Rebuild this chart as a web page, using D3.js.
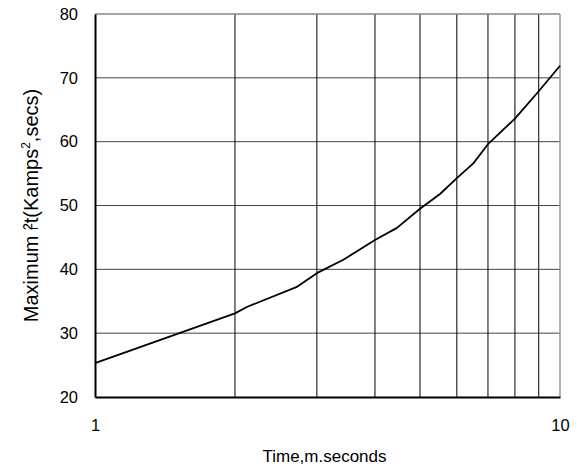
<!DOCTYPE html>
<html>
<head>
<meta charset="utf-8">
<script src="https://cdn.jsdelivr.net/npm/d3@7"></script>
<style>
  html, body { margin: 0; padding: 0; background: #fff; }
  svg { display: block; font-family: "Liberation Sans", Arial, sans-serif; }
</style>
</head>
<body>
<svg id="chart" width="580" height="470"></svg>
<script>
// Data
const timeMs = [1, 2, 2.12, 2.71, 3, 3.42, 4, 4.46, 5, 5.52, 6, 6.51, 7, 8, 9, 10];
const maxI2t = [25.3, 33.1, 34.1, 37.2, 39.4, 41.5, 44.6, 46.5, 49.5, 51.8, 54.3, 56.6, 59.6, 63.6, 67.9, 71.9];
const yTicks = [20, 30, 40, 50, 60, 70, 80];
const xGridValues = [2, 3, 4, 5, 6, 7, 8, 9];
const xTickLabels = [1, 10];

const margin = { left: 95, right: 20, top: 14, bottom: 73 };
const W = 580, H = 470;
const svg = d3.select("#chart");

const x = d3.scaleLog().domain([1, 10]).range([margin.left, W - margin.right]);
const y = d3.scaleLinear().domain([20, 80]).range([H - margin.bottom, margin.top]);

const g = svg.append("g");

// horizontal grid
g.selectAll("line.hgrid").data(yTicks.slice(1, -1)).enter().append("line")
  .attr("class", "hgrid")
  .attr("x1", x(1)).attr("x2", x(10))
  .attr("y1", d => y(d)).attr("y2", d => y(d))
  .attr("stroke", "#444").attr("stroke-width", 1);

// vertical grid
g.selectAll("line.vgrid").data(xGridValues).enter().append("line")
  .attr("class", "vgrid")
  .attr("x1", d => x(d)).attr("x2", d => x(d))
  .attr("y1", y(20)).attr("y2", y(80))
  .attr("stroke", "#000").attr("stroke-width", 1);

// top and right border (grey)
g.append("line").attr("x1", x(1)).attr("x2", x(10)).attr("y1", y(80)).attr("y2", y(80))
  .attr("stroke", "#888").attr("stroke-width", 1.5);
g.append("line").attr("x1", x(10)).attr("x2", x(10)).attr("y1", y(80)).attr("y2", y(20))
  .attr("stroke", "#999").attr("stroke-width", 1.5);

// left & bottom axes
const yAxis = d3.axisLeft(y).tickValues(yTicks).tickSize(0).tickPadding(17);
const yG = svg.append("g").attr("transform", `translate(${x(1)},0)`).call(yAxis);
yG.select(".domain").attr("stroke", "#000").attr("stroke-width", 2);
yG.selectAll("text").attr("font-size", 16.5).attr("fill", "#000")
  .attr("font-family", "Liberation Sans, Arial, sans-serif");

const xAxis = d3.axisBottom(x).tickValues(xTickLabels).tickFormat(d3.format("d")).tickSize(0).tickPadding(22);
const xG = svg.append("g").attr("transform", `translate(0,${y(20)})`).call(xAxis);
xG.select(".domain").attr("stroke", "#000").attr("stroke-width", 2);
xG.selectAll("text").attr("font-size", 16.5).attr("fill", "#000")
  .attr("font-family", "Liberation Sans, Arial, sans-serif");

// curve
const line = d3.line().x((d, i) => x(timeMs[i])).y(d => y(d));
svg.append("path").datum(maxI2t)
  .attr("d", line)
  .attr("fill", "none").attr("stroke", "#000").attr("stroke-width", 1.8)
  .attr("stroke-linejoin", "round");

// axis titles
svg.append("text")
  .attr("x", (x(1) + x(10)) / 2 - 3).attr("y", 462)
  .attr("text-anchor", "middle").attr("font-size", 17).attr("fill", "#000")
  .text("Time,m.seconds");

const yt = svg.append("text")
  .attr("transform", `translate(38,${(y(20) + y(80)) / 2}) rotate(-90)`)
  .attr("text-anchor", "middle").attr("font-size", 20).attr("fill", "#000");
yt.append("tspan").text("Maximum ");
yt.append("tspan").attr("font-size", 11).text("I");
yt.append("tspan").attr("dx", -3).text("²t(Kamps");
yt.append("tspan").attr("font-size", 12).attr("dy", -8).text("2");
yt.append("tspan").attr("dy", 8).text(",secs)");
</script>
</body>
</html>
